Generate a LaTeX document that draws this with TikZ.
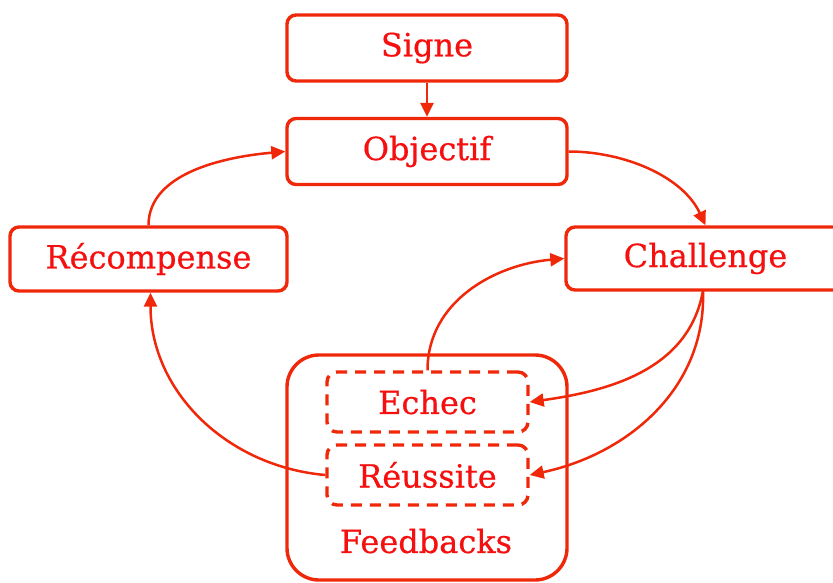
\documentclass[tikz,border=0pt]{standalone}
\usepackage{fontspec}
\setmainfont{DejaVu Serif}[FakeBold=0.5]
\usetikzlibrary{arrows.meta}
\definecolor{lred}{RGB}{240,40,10}
\definecolor{tred}{RGB}{245,15,15}
\tikzset{
  box/.style={draw=lred, line width=3.4pt, rounded corners=9pt, fill=white,
    text=tred, font=\fontsize{32}{36}\selectfont, inner sep=0pt},
  dbox/.style={box, dash pattern=on 11pt off 8pt, rounded corners=10pt},
  conn/.style={draw=lred, line width=2.5pt, -{Triangle[length=14pt,width=13pt]}}
}
\begin{document}
\begin{tikzpicture}[x=1pt,y=-1pt]
\useasboundingbox (0,0) rectangle (833,582);
\node[box, minimum width=280pt, minimum height=66pt] (signe) at (427,48) {Signe};
\node[box, minimum width=280pt, minimum height=66pt] (objectif) at (427,151.5) {Objectif};
\node[box, minimum width=277pt, minimum height=64pt] (recomp) at (148.5,259) {Récompense};
\node[box, minimum width=279pt, minimum height=63pt] (challenge) at (705.5,258.5) {Challenge};
\node[box, rounded corners=32pt, minimum width=280pt, minimum height=225pt] (feed) at (427,467.5) {};
\node[dbox, minimum width=201pt, minimum height=60pt] (echec) at (427.5,402) {Echec};
\node[dbox, minimum width=201pt, minimum height=60pt] (reussite) at (427.5,475) {Réussite};
\node[text=tred, font=\fontsize{32}{36}\selectfont, inner sep=0pt] (fbl) at (426,541) {Feedbacks};
\coordinate (chb) at (703,290.5);
\draw[conn] (signe) -- (objectif);
\draw[conn] (objectif.east) to[out=0,in=115,looseness=0.9] (challenge.north);
\draw[conn] (recomp.north) to[out=90,in=185,looseness=0.9] (objectif.west);
\draw[conn] (reussite.west) to[out=175,in=-90,looseness=1.0] ([xshift=2pt]recomp.south);
\draw[conn] (echec.north) to[out=90,in=185,looseness=1.0] (challenge.west);
\draw[conn] (chb) to[out=-100,in=8,looseness=1.0] (echec.east);
\draw[conn] (chb) to[out=-88,in=12,looseness=1.0] (reussite.east);
\end{tikzpicture}
\end{document}
